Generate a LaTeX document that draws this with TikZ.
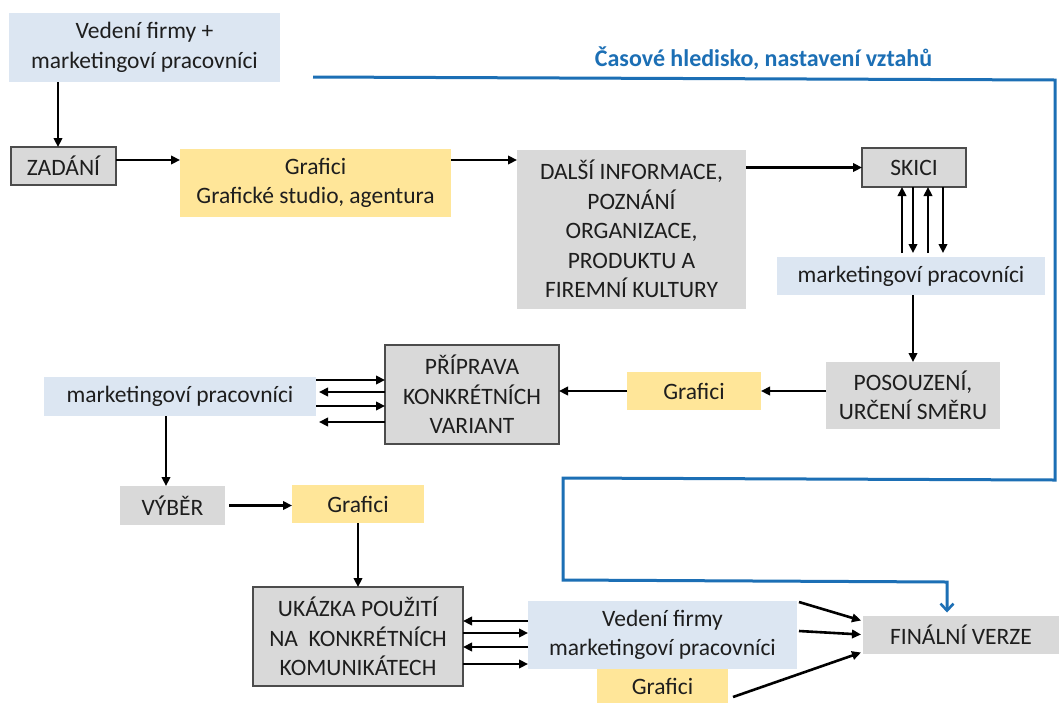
\documentclass[tikz,border=0pt]{standalone}
\usepackage{fontspec}
\setmainfont{Carlito}
\usetikzlibrary{arrows.meta,calc}
\definecolor{boxblue}{HTML}{DCE6F2}
\definecolor{boxgold}{HTML}{FFE699}
\definecolor{boxgray}{HTML}{D9D9D9}
\definecolor{linkblue}{HTML}{1C6FB5}
\definecolor{ink}{HTML}{1E1E1E}

\begin{document}
\begin{tikzpicture}[x=1pt,y=-1pt,
  every node/.style={inner sep=0pt, outer sep=0pt, align=center, text=ink,
    font=\fontsize{23.5}{29.5}\selectfont},
  size/.style n args={2}{minimum width=#1pt, minimum height=#2pt},
  people/.style={fill=boxblue},
  studio/.style={fill=boxgold},
  stage/.style={fill=boxgray},
  framed/.style={fill=boxgray, draw=black!70, line width=1.2pt},
  arr/.style={draw=black, line width=2.6pt, -{Triangle[length=9pt,width=8.5pt]}},
  timeline/.style={draw=linkblue, line width=3pt},
]
\fill[white] (0,0) rectangle (1059,702);
\useasboundingbox (0,0) rectangle (1059,702);

% --- boxes ---
\node[people, size={271}{69}] (top) at (144.5,47.5) {Vedení firmy +\\marketingoví pracovníci};
\node[framed, size={105}{38}] (zad) at (63.5,166) {ZADÁNÍ};
\node[studio, size={271}{68}] (graf1) at (315.5,183) {Grafici\\Grafické studio, agentura};
\node[stage, size={229}{159}] (dalsi) at (631.5,229)
  {DALŠÍ INFORMACE,\\POZNÁNÍ\\ORGANIZACE,\\PRODUKTU A\\FIREMNÍ KULTURY};
\node[framed, size={104}{39}] (skici) at (914,167.5) {SKICI};
\node[people, size={268}{38}] (mkt1) at (911,276) {marketingoví pracovníci};
\node[stage, size={174}{67}] (posouz) at (913,395.5) {POSOUZENÍ,\\URČENÍ SMĚRU};
\node[studio, size={134}{38}] (graf2) at (694,391) {Grafici};
\node[framed, size={174}{99}] (prip) at (472,394.5) {PŘÍPRAVA\\KONKRÉTNÍCH\\VARIANT};
\node[people, size={272}{39}] (mkt2) at (180,396.5) {marketingoví pracovníci};
\node[stage, size={105}{39}] (vyber) at (172.5,505.5) {VÝBĚR};
\node[studio, size={132}{38}] (graf3) at (358,504) {Grafici};
\node[framed, size={210}{99}] (ukazka) at (358,636.5)
  {UKÁZKA POUŽITÍ\\NA\ \ KONKRÉTNÍCH\\KOMUNIKÁTECH};
\node[people, size={269}{68}] (vedeni) at (662.5,635) {Vedení firmy\\marketingoví pracovníci};
\node[studio, size={131}{34}] (graf4) at (662.5,686) {Grafici};
\node[stage, size={196}{38}] (final) at (961,634.5) {FINÁLNÍ VERZE};

\node[anchor=base, text=linkblue, font=\fontsize{24}{29}\selectfont\bfseries] (title)
  at (763.5,66) {Časové hledisko, nastavení vztahů};

% --- time line ---
\coordinate (t0) at (313,77);
\draw[timeline, -{Straight Barb[length=7pt,width=13pt,line width=2.6pt]}]
  (t0) -- (1055,80) -- (1055,480) -- (563,478) -- (563,580) -- (947,582)
  -- ($(947,0 |- final.north)+(0,-3)$);

% --- flow ---
\coordinate (a1) at ($(zad.north)+(-5.5,0)$);
\draw[arr] (a1 |- top.south) -- (a1);
\coordinate (a2) at ($(zad.east)+(0,-6)$);
\draw[arr] (a2) -- (a2 -| graf1.west);
\coordinate (a3) at (graf1.east |- a2);
\draw[arr] (a3) -- (a3 -| dalsi.west);
\draw[arr] (dalsi.east |- skici.west) -- (skici.west);

% sketches going back and forth
\coordinate (s1) at ($(skici.south)+(-12,0)$);
\coordinate (s2) at ($(skici.south)+(-1,0)$);
\coordinate (s3) at ($(skici.south)+(14,0)$);
\coordinate (s4) at ($(skici.south)+(29,0)$);
\draw[arr] ($(s1 |- mkt1.north)+(0,-4)$) -- (s1);
\draw[arr] (s2) -- ($(s2 |- mkt1.north)+(0,-4)$);
\draw[arr] ($(s3 |- mkt1.north)+(0,-4)$) -- (s3);
\draw[arr] (s4) -- ($(s4 |- mkt1.north)+(0,-4)$);

\draw[arr] (mkt1.south -| posouz.north) -- (posouz.north);
\draw[arr] (posouz.west |- graf2.east) -- (graf2.east);
\draw[arr] (graf2.west) -- (graf2.west -| prip.east);

% variants discussed with marketing
\draw[arr] (mkt2.east |- 0,380) -- (prip.west |- 0,380);
\draw[arr] (prip.west |- 0,392) -- ($(mkt2.east |- 0,392)+(3,0)$);
\draw[arr] (mkt2.east |- 0,406) -- (prip.west |- 0,406);
\draw[arr] (prip.west |- 0,422) -- ($(mkt2.east |- 0,422)+(3,0)$);

\draw[arr] (mkt2.south -| 166,0) -- (vyber.north -| 166,0);
\draw[arr, shorten <=4pt] (vyber.east) -- (vyber.east -| graf3.west);
\draw[arr] (graf3.south) -- (ukazka.north);

% examples discussed with management
\draw[arr] (vedeni.west |- 0,621) -- (ukazka.east |- 0,621);
\draw[arr] (ukazka.east |- 0,633) -- (vedeni.west |- 0,633);
\draw[arr] (vedeni.west |- 0,647) -- (ukazka.east |- 0,647);
\draw[arr] (ukazka.east |- 0,664) -- (vedeni.west |- 0,664);

% towards the final version
\draw[arr] ($(vedeni.north east)+(2,1)$) -- ($(final.west)+(-2,-14)$);
\draw[arr] ($(vedeni.east)+(2,-4)$) -- ($(final.west)+(-2,0)$);
\draw[arr] ($(graf4.east)+(5,11)$) -- ($(final.west)+(-2,18)$);
\end{tikzpicture}
\end{document}
